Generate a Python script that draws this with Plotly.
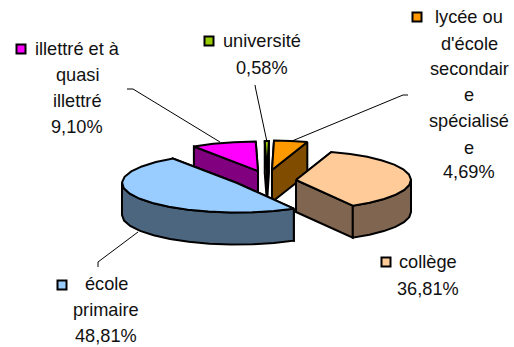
import numpy as np
import plotly.graph_objects as go

# --- data (clockwise from the top) ---
categories = ["lycée ou d'école secondaire spécialisée", "collège", "école primaire",
              "illettré et à quasi illettré", "université"]
values = [4.69, 36.81, 48.81, 9.10, 0.58]
top_colors = ["#FF9900", "#FFCC99", "#99CCFF", "#FF00FF", "#99CC00"]
side_colors = ["#804D00", "#806650", "#4D6680", "#800080", "#4D6600"]
label_lines = [
    ["lycée ou", "d'école", "secondair", "e", "spécialisé", "e"],
    ["collège"],
    ["école", "primaire"],
    ["illettré et à", "quasi", "illettré"],
    ["université"],
]

# --- layout of the drawing (pixels) ---
W, H = 514, 347
START = 1.0
RX, RY, DEPTH = 115, 29.5, 32
centers = [(272, 170), (296, 180), (237, 183), (258, 171), (267, 170.5)]
draw_order = [3, 4, 0, 1, 2]
text_x = [469, 427.5, 106, 77, 262]
text_y = [[17, 44, 69, 95, 121, 148, 172], [262, 289], [284, 310, 336], [49, 75, 101, 127], [41, 68]]
key_pos = [(417, 17), (386, 262), (62, 285), (21, 49), (209, 41)]
leaders = [
    ([408, 403, 292], [95, 95, 141]),
    ([98, 98, 138], [267, 262, 232]),
    ([127, 133, 220], [89, 89, 142]),
    ([255, 255.5, 267], [85, 88, 142]),
]
FONT = dict(family="Liberation Sans, Arial, sans-serif", size=18.2, color="#111111")

spans = np.cumsum([0] + values) * 3.6 + START
fig = go.Figure()


def pt(c, deg, dz=0.0):
    t = np.radians(deg)
    return c[0] + RX * np.sin(t), c[1] - RY * np.cos(t) + dz


def arc(a0, a1, step=11.0):
    n = max(1, int(np.ceil((a1 - a0) / step)))
    return np.linspace(a0, a1, n + 1)


def poly(xs, ys, fill):
    fig.add_trace(go.Scatter(x=list(xs), y=list(ys), mode="lines", fill="toself",
                             fillcolor=fill, line=dict(color="black", width=2, shape="linear"),
                             hoverinfo="skip", showlegend=False))


for i in draw_order:
    c = centers[i]
    a0, a1 = spans[i], spans[i + 1]
    # radial walls, the back one first
    walls = sorted([a0, a1], key=lambda a: -np.cos(np.radians(a)))
    for a in walls:
        x, y = pt(c, a)
        poly([c[0], x, x, c[0], c[0]], [c[1], y, y + DEPTH, c[1] + DEPTH, c[1]], side_colors[i])
    # outer wall, front half only
    f0, f1 = max(a0, 90), min(a1, 270)
    if f1 > f0:
        ang = arc(f0, f1)
        xs, ys = pt(c, ang)
        poly(np.r_[xs, xs[::-1], xs[0]], np.r_[ys, ys[::-1] + DEPTH, ys[0]], side_colors[i])
    # top face
    ang = arc(a0, a1)
    xs, ys = pt(c, ang)
    poly(np.r_[c[0], xs, c[0]], np.r_[c[1], ys, c[1]], top_colors[i])

for lx, ly in leaders:
    fig.add_trace(go.Scatter(x=lx, y=ly, mode="lines", line=dict(color="black", width=1),
                             hoverinfo="skip", showlegend=False))

fig.add_trace(go.Scatter(
    x=[p[0] for p in key_pos], y=[p[1] for p in key_pos], mode="markers",
    marker=dict(symbol="square", size=9, color=top_colors, line=dict(color="black", width=2)),
    hoverinfo="skip", showlegend=False))

annotations = []
for i, lines in enumerate(label_lines):
    pct = f"{values[i]:.2f}%".replace(".", ",")
    for line, y in zip(lines + [pct], text_y[i]):
        annotations.append(dict(x=text_x[i], y=y, text=line, showarrow=False, xref="x", yref="y",
                                xanchor="center", yanchor="middle", font=FONT))

fig.update_layout(
    width=W, height=H, margin=dict(l=0, r=0, t=0, b=0),
    paper_bgcolor="white", plot_bgcolor="white", showlegend=False,
    xaxis=dict(range=[0, W], visible=False, fixedrange=True),
    yaxis=dict(range=[H, 0], visible=False, fixedrange=True),
    annotations=annotations,
)
fig.write_html("out.html", config=dict(displayModeBar=False),
               post_script="document.body.style.margin='0';document.body.style.overflow='hidden';")
